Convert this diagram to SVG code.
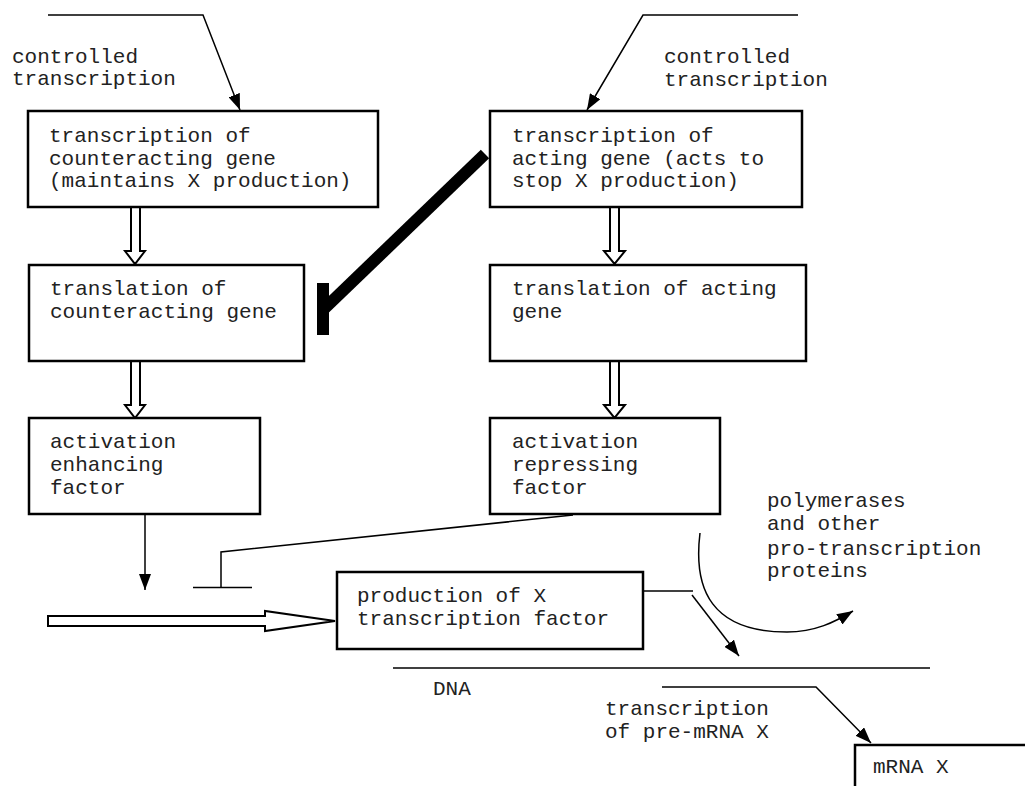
<svg xmlns="http://www.w3.org/2000/svg" width="1025" height="786" viewBox="0 0 1025 786">
<style>
text{font-family:"Liberation Mono","Courier New",monospace;font-size:21px;fill:#222}
.box{fill:#fff;stroke:#000;stroke-width:2.5}
.ln{fill:none;stroke:#000;stroke-width:1.5}
.hol{fill:#fff;stroke:#000;stroke-width:2}
</style>
<defs>
<marker id="ah" viewBox="0 0 16 12" refX="16" refY="6" markerWidth="16" markerHeight="12" markerUnits="userSpaceOnUse" orient="auto">
<path d="M0,0 L16,6 L0,12 Z" fill="#000"/>
</marker>
</defs>
<rect width="1025" height="786" fill="#fff"/>
<g id="connectors">
<polyline class="ln" points="48,15 203,15 240,110" marker-end="url(#ah)"/>
<polyline class="ln" points="798,15 643,15 587,110" marker-end="url(#ah)"/>
<path class="hol" d="M131,207 V251 H125 L135,264 L145,251 H140 V207"/>
<path class="hol" d="M610,207 V251 H604 L614.5,264 L625,251 H619 V207"/>
<path class="hol" d="M131,361 V405 H125 L135,418 L145,405 H140 V361"/>
<path class="hol" d="M610,361 V405 H604 L614.5,418 L625,405 H619 V361"/>
<line x1="485" y1="154" x2="325" y2="308" stroke="#000" stroke-width="12"/>
<rect x="317" y="283" width="12" height="52" fill="#000"/>
<line class="ln" x1="145" y1="514" x2="145" y2="590" marker-end="url(#ah)"/>
<polyline class="ln" points="573,515 221,552 221,587"/>
<line class="ln" x1="193" y1="587.5" x2="252" y2="587.5" stroke-width="2"/>
<path class="hol" d="M48,616 H265 V611 L335,621 L265,631 V626 H48 Z"/>
<line class="ln" x1="643" y1="591" x2="693" y2="591"/>
<line class="ln" x1="692" y1="595" x2="739" y2="656" marker-end="url(#ah)"/>
<line class="ln" x1="393" y1="668" x2="930" y2="668" stroke-width="2"/>
<path class="ln" d="M700,533 C693,590 712,632 787,632 C815,632 835,622 853,611" stroke-width="2" marker-end="url(#ah)"/>
<polyline class="ln" points="662,687 816,687 871,743" marker-end="url(#ah)"/>
</g>
<g id="n1">
<rect class="box" x="28" y="111" width="350" height="96"/>
<text x="49" y="142">transcription of</text>
<text x="49" y="165">counteracting gene</text>
<text x="49" y="187">(maintains X production)</text>
</g>
<g id="n2">
<rect class="box" x="490" y="111" width="312" height="96"/>
<text x="512" y="142">transcription of</text>
<text x="512" y="165">acting gene (acts to</text>
<text x="512" y="187">stop X production)</text>
</g>
<g id="n3">
<rect class="box" x="29" y="265" width="275" height="96"/>
<text x="50" y="295">translation of</text>
<text x="50" y="318">counteracting gene</text>
</g>
<g id="n4">
<rect class="box" x="490" y="265" width="316" height="96"/>
<text x="512" y="295">translation of acting</text>
<text x="512" y="318">gene</text>
</g>
<g id="n5">
<rect class="box" x="29" y="418" width="231" height="96"/>
<text x="50" y="448">activation</text>
<text x="50" y="471">enhancing</text>
<text x="50" y="494">factor</text>
</g>
<g id="n6">
<rect class="box" x="490" y="418" width="230" height="96"/>
<text x="512" y="448">activation</text>
<text x="512" y="471">repressing</text>
<text x="512" y="494">factor</text>
</g>
<g id="n7">
<rect class="box" x="337" y="572" width="306" height="77"/>
<text x="357" y="602">production of X</text>
<text x="357" y="625">transcription factor</text>
</g>
<g id="n8">
<path class="box" d="M855,786 V745 H1027" />
<text x="873" y="773">mRNA X</text>
</g>
<g id="labels">
<text x="12" y="63">controlled</text>
<text x="12" y="85">transcription</text>
<text x="664" y="63">controlled</text>
<text x="664" y="86">transcription</text>
<text x="767" y="507">polymerases</text>
<text x="767" y="530">and other</text>
<text x="767" y="555">pro-transcription</text>
<text x="767" y="577">proteins</text>
<text x="433" y="695">DNA</text>
<text x="605" y="715">transcription</text>
<text x="605" y="738">of pre-mRNA X</text>
</g>
</svg>
